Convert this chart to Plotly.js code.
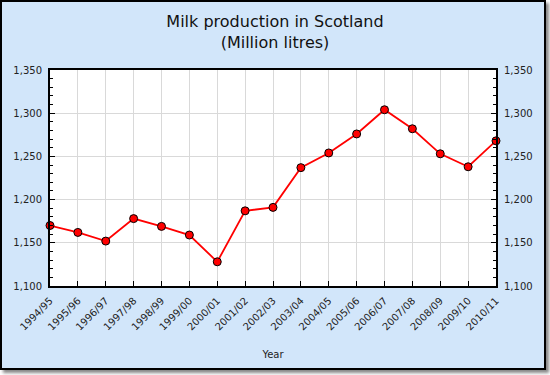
<!DOCTYPE html>
<html><head><meta charset="utf-8">
<script src="https://cdn.plot.ly/plotly-3.0.1.min.js"></script>
<style>
html,body{margin:0;padding:0;background:#fff;}
#wrap{position:relative;width:550px;height:375px;}
#bg{position:absolute;left:0;top:0;width:546px;height:370px;box-sizing:border-box;border:2px solid #000;background:#d2e6fa;box-shadow:3px 3px 3px #888;}
#chart{position:absolute;left:0;top:0;width:550px;height:375px;}
</style></head>
<body>
<div id="wrap"><div id="bg"></div><div id="chart"></div></div>
<script>
const years = ["1994/95","1995/96","1996/97","1997/98","1998/99","1999/00","2000/01","2001/02","2002/03","2003/04","2004/05","2005/06","2006/07","2007/08","2008/09","2009/10","2010/11"];
const milk = [1170,1162,1152,1178,1169,1159,1128,1187,1191,1237,1254,1276,1304,1282,1253,1238,1268];
const titleText = "Milk production in Scotland<br>(Million litres)";
const xTitle = "Year";
const yRange = [1100,1350];

const font = "DejaVu Sans, Verdana, sans-serif";
const traces = [
  {x: years, y: milk, type:'scatter', mode:'lines+markers',
   line:{color:'#ff0000', width:1.8},
   marker:{color:'#ff0000', size:8, line:{color:'#000', width:1}},
   hoverinfo:'x+y', cliponaxis:false},
  {x: years, y: milk, type:'scatter', mode:'lines', yaxis:'y2',
   line:{color:'rgba(0,0,0,0)'}, hoverinfo:'skip', showlegend:false}
];
const yCommon = {
  range: yRange, dtick:50, tickformat:',', ticks:'inside', ticklen:5, tickcolor:'#000',
  showline:true, linecolor:'#000', linewidth:2, zeroline:false, ticklabelstandoff:4,
  tickfont:{family:font, size:10, color:'#222'},
  minor:{dtick:10, ticks:'inside', ticklen:3, tickcolor:'#000', showgrid:false}
};
const layout = {
  width:550, height:375,
  paper_bgcolor:'rgba(0,0,0,0)', plot_bgcolor:'#fff',
  margin:{l:50, r:54, t:70, b:89},
  showlegend:false,
  title:{text:titleText, font:{family:font, size:16, color:'#111'}, x:0.5, xanchor:'center', y:0.928, yanchor:'top'},
  xaxis:{type:'category', range:[0,16], showgrid:true, gridcolor:'#d9d9d9', gridwidth:1,
    ticks:'inside', ticklen:5, tickcolor:'#000', tickangle:-45, ticklabelstandoff:3,
    showline:true, linecolor:'#000', linewidth:2, mirror:true,
    tickfont:{family:font, size:10, color:'#222'},
    title:{text:xTitle, font:{family:font, size:10, color:'#222'}, standoff:20}},
  yaxis:Object.assign({}, yCommon, {showgrid:true, gridcolor:'#d9d9d9', gridwidth:1, side:'left'}),
  yaxis2:Object.assign({}, yCommon, {overlaying:'y', side:'right', showgrid:false})
};
Plotly.newPlot('chart', traces, layout, {displayModeBar:false, staticPlot:true});
</script>
</body></html>
